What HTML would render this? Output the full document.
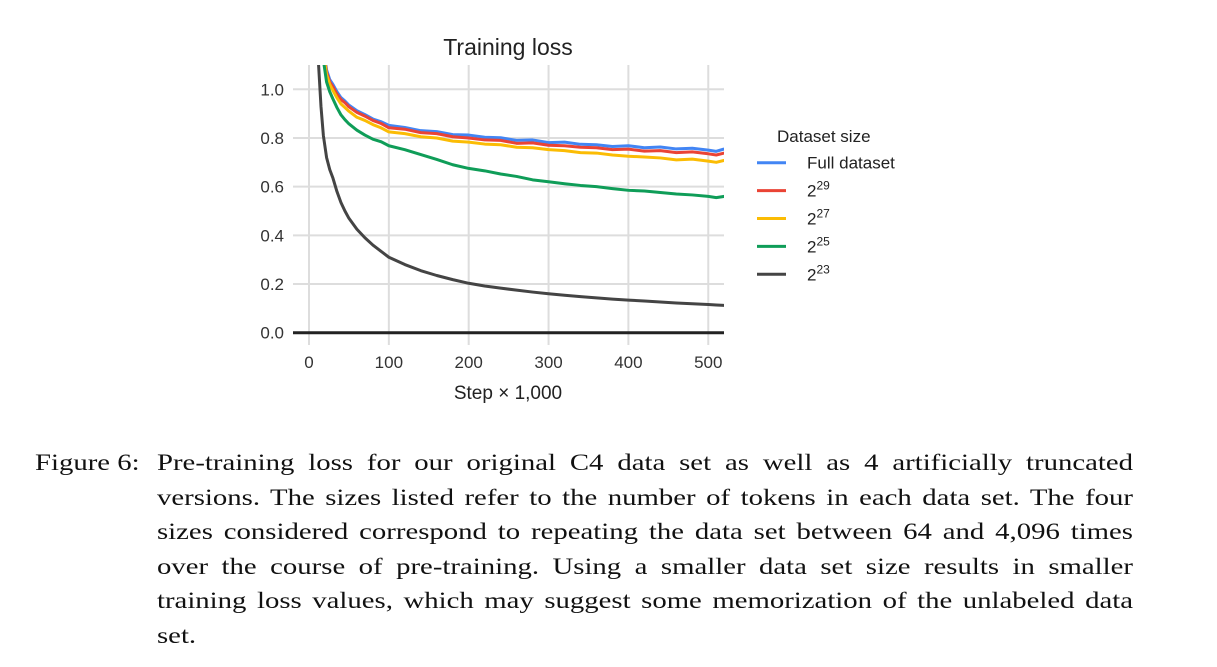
<!DOCTYPE html>
<html><head><meta charset="utf-8">
<style>
body{margin:0;width:1217px;height:667px;background:#fff;overflow:hidden;position:relative}
svg text{font-family:"Liberation Sans",sans-serif}
#cap{position:absolute;left:35px;top:449px;font-family:"Liberation Serif",serif;font-size:23px;color:#111;transform:scaleX(1.25);transform-origin:0 0;width:800px}
.ln{position:absolute;left:97.6px;width:780.8px;white-space:nowrap;text-align:justify;text-align-last:justify;line-height:28px}
</style></head><body>
<svg id="chart" width="1217" height="440" style="position:absolute;left:0;top:0">
<text x="508" y="55" text-anchor="middle" font-size="23" fill="#222">Training loss</text>
<g id="grid"></g><g id="series"></g><g id="axes"></g>
<text x="508" y="399" text-anchor="middle" font-size="19" fill="#222">Step × 1,000</text>
<g id="legend"></g>
</svg>
<div id="cap">
<div style="position:absolute;left:0;top:0;line-height:28px;white-space:nowrap">Figure 6:</div>
<div class="ln" style="top:0">Pre-training loss for our original C4 data set as well as 4 artificially truncated</div>
<div class="ln" style="top:34.6px">versions. The sizes listed refer to the number of tokens in each data set. The four</div>
<div class="ln" style="top:69.2px">sizes considered correspond to repeating the data set between 64 and 4,096 times</div>
<div class="ln" style="top:103.8px">over the course of pre-training. Using a smaller data set size results in smaller</div>
<div class="ln" style="top:138.4px">training loss values, which may suggest some memorization of the unlabeled data</div>
<div class="ln" style="top:173px;text-align-last:left">set.</div>
</div>
<script>
const steps=[12,15,18,22,26,30,35,40,45,50,60,70,80,90,100,120,140,160,180,200,220,240,260,280,300,320,340,360,380,400,420,440,460,480,500,510,520];
const fullData=[1.5,1.3,1.17,1.08,1.04,1.02,0.99,0.966,0.952,0.935,0.912,0.896,0.878,0.867,0.852,0.843,0.83,0.826,0.814,0.812,0.803,0.801,0.79,0.792,0.781,0.783,0.774,0.772,0.765,0.768,0.76,0.763,0.755,0.758,0.75,0.745,0.755];
const s29=[1.5,1.3,1.16,1.07,1.03,1.01,0.98,0.958,0.945,0.928,0.905,0.89,0.872,0.86,0.842,0.836,0.822,0.818,0.805,0.8,0.792,0.79,0.778,0.78,0.77,0.768,0.762,0.76,0.752,0.754,0.746,0.748,0.74,0.743,0.735,0.73,0.738];
const s27=[1.5,1.3,1.15,1.06,1.02,0.995,0.965,0.94,0.925,0.91,0.885,0.872,0.855,0.842,0.825,0.818,0.805,0.8,0.787,0.783,0.775,0.772,0.762,0.76,0.752,0.748,0.74,0.738,0.73,0.725,0.722,0.718,0.71,0.713,0.705,0.7,0.708];
const s25=[1.5,1.28,1.12,1.03,0.99,0.96,0.925,0.895,0.875,0.858,0.832,0.812,0.795,0.785,0.768,0.752,0.732,0.712,0.69,0.675,0.665,0.652,0.642,0.628,0.62,0.612,0.605,0.6,0.592,0.585,0.582,0.576,0.57,0.566,0.56,0.555,0.56];
const s23=[1.1,0.93,0.81,0.72,0.67,0.635,0.58,0.535,0.5,0.47,0.425,0.39,0.36,0.335,0.31,0.28,0.255,0.235,0.218,0.203,0.192,0.183,0.175,0.167,0.16,0.154,0.148,0.143,0.138,0.134,0.13,0.126,0.122,0.119,0.116,0.114,0.112];
const xTicks=[0,100,200,300,400,500];
const yTicks=[0,0.2,0.4,0.6,0.8,1.0];
const seriesNames=["Full dataset","2","2","2","2"];
const seriesSup=["","29","27","25","23"];
const colors=["#4285f4","#ea4335","#fbbc04","#0f9d58","#444"];
const X0=293,X1=724,Y0=65,Y1=345;
const xs=v=>309+v*0.7985;
const ys=v=>332.7-v*243.4;
const NS="http://www.w3.org/2000/svg";
function mk(t,a,p){const e=document.createElementNS(NS,t);for(const k in a)e.setAttribute(k,a[k]);p.appendChild(e);return e;}
const grid=document.getElementById('grid'),axes=document.getElementById('axes');
xTicks.forEach(t=>{
 const l=mk('line',{x1:xs(t),x2:xs(t),y1:Y0,y2:Y1,stroke:'#ddd','stroke-width':2},grid);
 
 
 const tx=mk('text',{x:xs(t),y:368,'text-anchor':'middle','font-size':17,fill:'#333'},axes);tx.textContent=t;
 
 
});
yTicks.forEach(t=>{
 if(t>0){const l=mk('line',{x1:X0,x2:X1,y1:ys(t),y2:ys(t),stroke:'#ddd','stroke-width':2},grid);
 
 }
 const tx=mk('text',{x:284,y:ys(t)+6,'text-anchor':'end','font-size':17,fill:'#333'},axes);tx.textContent=t.toFixed(1);
 
 
});
const base=mk('line',{x1:X0,x2:X1,y1:ys(0),y2:ys(0),stroke:'#222','stroke-width':3},axes);


const defs=mk('defs',{},document.getElementById('chart'));
const cp=mk('clipPath',{id:'pc'},defs);mk('rect',{x:X0,y:Y0,width:X1-X0,height:Y1-Y0},cp);
const sg=document.getElementById('series');sg.setAttribute('clip-path','url(#pc)');
const all=[fullData,s29,s27,s25,s23];
const sn=['series-full','series-2-29','series-2-27','series-2-25','series-2-23'];
all.forEach((d,i)=>{
 const p=mk('polyline',{points:d.map((v,j)=>xs(steps[j])+','+ys(v)).join(' '),fill:'none',stroke:colors[i],'stroke-width':3,'stroke-linejoin':'round'},sg);
 
 
});
const lg=document.getElementById('legend');
const lt=mk('text',{x:777,y:142,'font-size':17,fill:'#222'},lg);lt.textContent='Dataset size';


seriesNames.forEach((n,i)=>{
 const y=162.7+i*27.9;
 const g=mk('g',{},lg);
 
 
 mk('line',{x1:757,x2:786,y1:y,y2:y,stroke:colors[i],'stroke-width':3},g);
 const t=mk('text',{x:807,y:y+6,'font-size':17,fill:'#222'},g);t.textContent=n;
 if(seriesSup[i]){const s=mk('tspan',{dy:-7,'font-size':12},t);s.textContent=seriesSup[i];}
});
</script>
</body></html>
